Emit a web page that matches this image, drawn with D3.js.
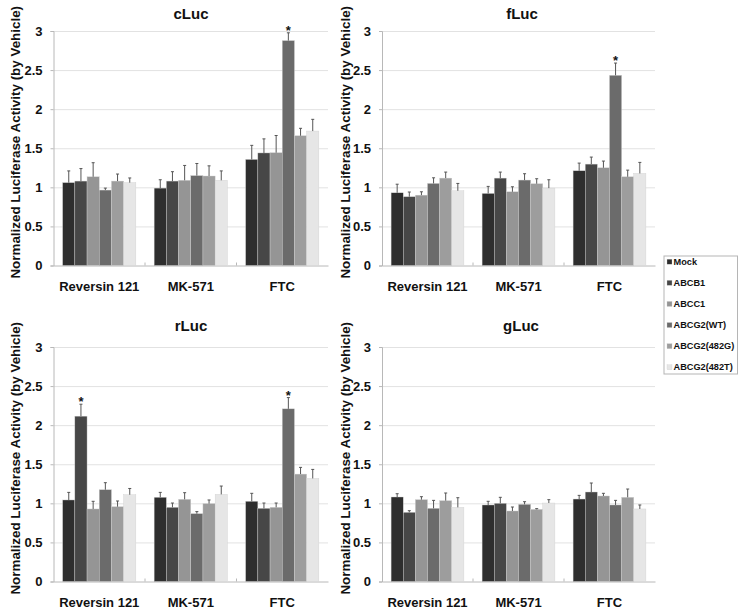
<!DOCTYPE html>
<html><head><meta charset="utf-8">
<script src="https://cdn.jsdelivr.net/npm/d3@7"></script>
<style>
body{margin:0;background:#fff;}
svg{display:block;font-family:"Liberation Sans",Arial,sans-serif;}
</style></head>
<body><svg id="c" width="744" height="612"></svg>
<script>
const categories = ["Reversin 121", "MK-571", "FTC"];
const series = ["Mock", "ABCB1", "ABCC1", "ABCG2(WT)", "ABCG2(482G)", "ABCG2(482T)"];
const seriesColors = ["#2e2e2e", "#474747", "#959595", "#6b6b6b", "#9d9d9d", "#e6e6e6"];
const yTicks = [0, 0.5, 1, 1.5, 2, 2.5, 3];
const panelTitles = ["cLuc", "fLuc", "rLuc", "gLuc"];

// values[panel][category][series]
const cLucValues = [[1.06, 1.08, 1.135, 0.965, 1.08, 1.06], [0.99, 1.08, 1.09, 1.15, 1.145, 1.09], [1.357, 1.44, 1.443, 2.877, 1.66, 1.72]];
const cLucErrors = [[0.15, 0.16, 0.18, 0.025, 0.09, 0.06], [0.107, 0.12, 0.19, 0.155, 0.13, 0.12], [0.18, 0.18, 0.22, 0.10, 0.095, 0.15]];
const fLucValues = [[0.93, 0.88, 0.90, 1.05, 1.118, 0.956], [0.922, 1.118, 0.943, 1.093, 1.046, 0.99], [1.212, 1.297, 1.25, 2.433, 1.135, 1.178]];
const fLucErrors = [[0.11, 0.06, 0.043, 0.072, 0.077, 0.094], [0.09, 0.077, 0.064, 0.081, 0.064, 0.107], [0.098, 0.09, 0.086, 0.157, 0.085, 0.141]];
const rLucValues = [[1.043, 2.115, 0.928, 1.174, 0.957, 1.11], [1.077, 0.949, 1.051, 0.868, 0.996, 1.115], [1.026, 0.936, 0.949, 2.209, 1.374, 1.319]];
const rLucErrors = [[0.097, 0.153, 0.098, 0.09, 0.073, 0.08], [0.063, 0.055, 0.085, 0.026, 0.047, 0.106], [0.102, 0.068, 0.055, 0.144, 0.086, 0.115]];
const gLucValues = [[1.081, 0.885, 1.047, 0.936, 1.034, 0.949], [0.979, 1.0, 0.902, 0.987, 0.923, 1.004], [1.055, 1.145, 1.094, 0.979, 1.077, 0.928]];
const gLucErrors = [[0.042, 0.021, 0.038, 0.102, 0.098, 0.123], [0.047, 0.077, 0.051, 0.034, 0.009, 0.043], [0.047, 0.115, 0.034, 0.059, 0.106, 0.051]];
// significance markers: [panel index, category index, series index]
const starMarks = [[0, 2, 3], [1, 2, 3], [2, 0, 1], [2, 2, 3]];

const panelValues = [cLucValues, fLucValues, rLucValues, gLucValues];
const panelErrors = [cLucErrors, fLucErrors, rLucErrors, gLucErrors];

const panels = [
  {x0: 53.5, x1: 328, yTop: 31, yBot: 265.5, titleX: 191, titleY: 19, catY: 291, labX: 15},
  {x0: 382, x1: 655, yTop: 31, yBot: 265.5, titleX: 522, titleY: 19, catY: 291, labX: 345},
  {x0: 53.5, x1: 328, yTop: 347, yBot: 581.5, titleX: 191, titleY: 331, catY: 607, labX: 15},
  {x0: 382, x1: 655, yTop: 347, yBot: 581.5, titleX: 521, titleY: 331, catY: 607, labX: 345}
];

const svg = d3.select("#c");

panels.forEach((p, pi) => {
  const g = svg.append("g");
  const y = d3.scaleLinear().domain([0, 3]).range([p.yBot, p.yTop]);
  const x0 = d3.scaleBand().domain(categories).range([p.x0, p.x1]).paddingInner(0.2).paddingOuter(0.1);
  const x1 = d3.scaleBand().domain(series).range([0, x0.bandwidth()]);
  const color = d3.scaleOrdinal().domain(series).range(seriesColors);

  // gridlines
  g.append("g").selectAll("line").data(yTicks.filter(t => t > 0)).join("line")
    .attr("x1", p.x0).attr("x2", p.x1)
    .attr("y1", d => y(d) + 0.5).attr("y2", d => y(d) + 0.5)
    .attr("stroke", "#e2e2e2").attr("stroke-width", 1);

  // y axis
  const ya = g.append("g").attr("transform", `translate(${p.x0},0)`)
    .call(d3.axisLeft(y).tickValues(yTicks).tickFormat(d3.format("")).tickSize(3).tickPadding(8));
  ya.select(".domain").attr("stroke", "#b8b8b8");
  ya.selectAll(".tick line").attr("stroke", "#b8b8b8");
  ya.selectAll("text").attr("font-size", 13).attr("font-weight", "bold").attr("fill", "#111")
    .attr("font-family", "Liberation Sans, Arial, sans-serif");

  // x axis
  const xa = g.append("g").attr("transform", `translate(0,${p.yBot})`)
    .call(d3.axisBottom(x0).tickSize(0).tickPadding(0));
  xa.select(".domain").attr("stroke", "#b8b8b8");
  xa.selectAll("text").remove();
  // category boundary ticks
  g.append("g").selectAll("line").data(categories.slice(1)).join("line")
    .attr("x1", d => x0(d) - x0.step() * x0.paddingInner() / 2)
    .attr("x2", d => x0(d) - x0.step() * x0.paddingInner() / 2)
    .attr("y1", p.yBot).attr("y2", p.yBot - 3).attr("stroke", "#b8b8b8");
  g.append("g").selectAll("text").data(categories).join("text")
    .attr("x", d => x0(d) + x0.bandwidth() / 2).attr("y", p.catY)
    .attr("text-anchor", "middle").attr("font-size", 13).attr("font-weight", "bold").attr("fill", "#111")
    .text(d => d);

  // bars
  const vals = panelValues[pi], errs = panelErrors[pi];
  categories.forEach((c, ci) => {
    const cg = g.append("g").attr("transform", `translate(${x0(c)},0)`);
    const rows = series.map((s, si) => ({s, v: vals[ci][si], e: errs[ci][si]}));
    cg.selectAll("rect").data(rows).join("rect")
      .attr("x", d => x1(d.s)).attr("width", x1.bandwidth())
      .attr("y", d => y(d.v)).attr("height", d => y(0) - y(d.v))
      .attr("fill", d => color(d.s)).attr("stroke", "#d0d0d0").attr("stroke-width", 0.4);
    cg.selectAll("line.err").data(rows).join("line").attr("class", "err")
      .attr("x1", d => x1(d.s) + x1.bandwidth() / 2).attr("x2", d => x1(d.s) + x1.bandwidth() / 2)
      .attr("y1", d => y(d.v)).attr("y2", d => y(d.v + d.e))
      .attr("stroke", "#555").attr("stroke-width", 1);
    cg.selectAll("line.cap").data(rows).join("line").attr("class", "cap")
      .attr("x1", d => x1(d.s) + x1.bandwidth() / 2 - 1.5).attr("x2", d => x1(d.s) + x1.bandwidth() / 2 + 1.5)
      .attr("y1", d => y(d.v + d.e)).attr("y2", d => y(d.v + d.e))
      .attr("stroke", "#555").attr("stroke-width", 1);
  });

  // stars
  starMarks.filter(m => m[0] === pi).forEach(m => {
    const c = categories[m[1]], s = series[m[2]];
    const top = vals[m[1]][m[2]] + errs[m[1]][m[2]];
    g.append("text").attr("x", x0(c) + x1(s) + x1.bandwidth() / 2).attr("y", y(top) + 2)
      .attr("text-anchor", "middle").attr("font-size", 13).attr("font-weight", "bold").attr("fill", "#111").text("*");
  });

  // title
  g.append("text").attr("x", p.titleX).attr("y", p.titleY).attr("text-anchor", "middle")
    .attr("font-size", 15).attr("font-weight", "bold").attr("fill", "#111").text(panelTitles[pi]);

  // y label
  const cy = (p.yTop + p.yBot) / 2 - 6;
  g.append("text").attr("transform", `translate(${p.labX},${cy}) rotate(-90)`)
    .attr("text-anchor", "middle").attr("dominant-baseline", "central")
    .attr("font-size", 13.4).attr("font-weight", "bold").attr("fill", "#111")
    .text("Normalized Luciferase Activity (by Vehicle)");
});

// legend
const lg = svg.append("g");
lg.append("rect").attr("x", 664).attr("y", 256).attr("width", 73.5).attr("height", 118)
  .attr("fill", "#fff").attr("stroke", "#b5b5b5").attr("stroke-width", 1);
const ly = d3.scalePoint().domain(series).range([261.7, 367.3]);
series.forEach((s, i) => {
  lg.append("rect").attr("x", 667).attr("y", ly(s) - 2.5).attr("width", 5).attr("height", 5)
    .attr("fill", seriesColors[i]).attr("stroke", "#ccc").attr("stroke-width", 0.3);
  lg.append("text").attr("x", 673.5).attr("y", ly(s)).attr("dominant-baseline", "central")
    .attr("font-size", 9.2).attr("font-weight", "bold").attr("fill", "#111").text(s);
});
</script></body></html>
